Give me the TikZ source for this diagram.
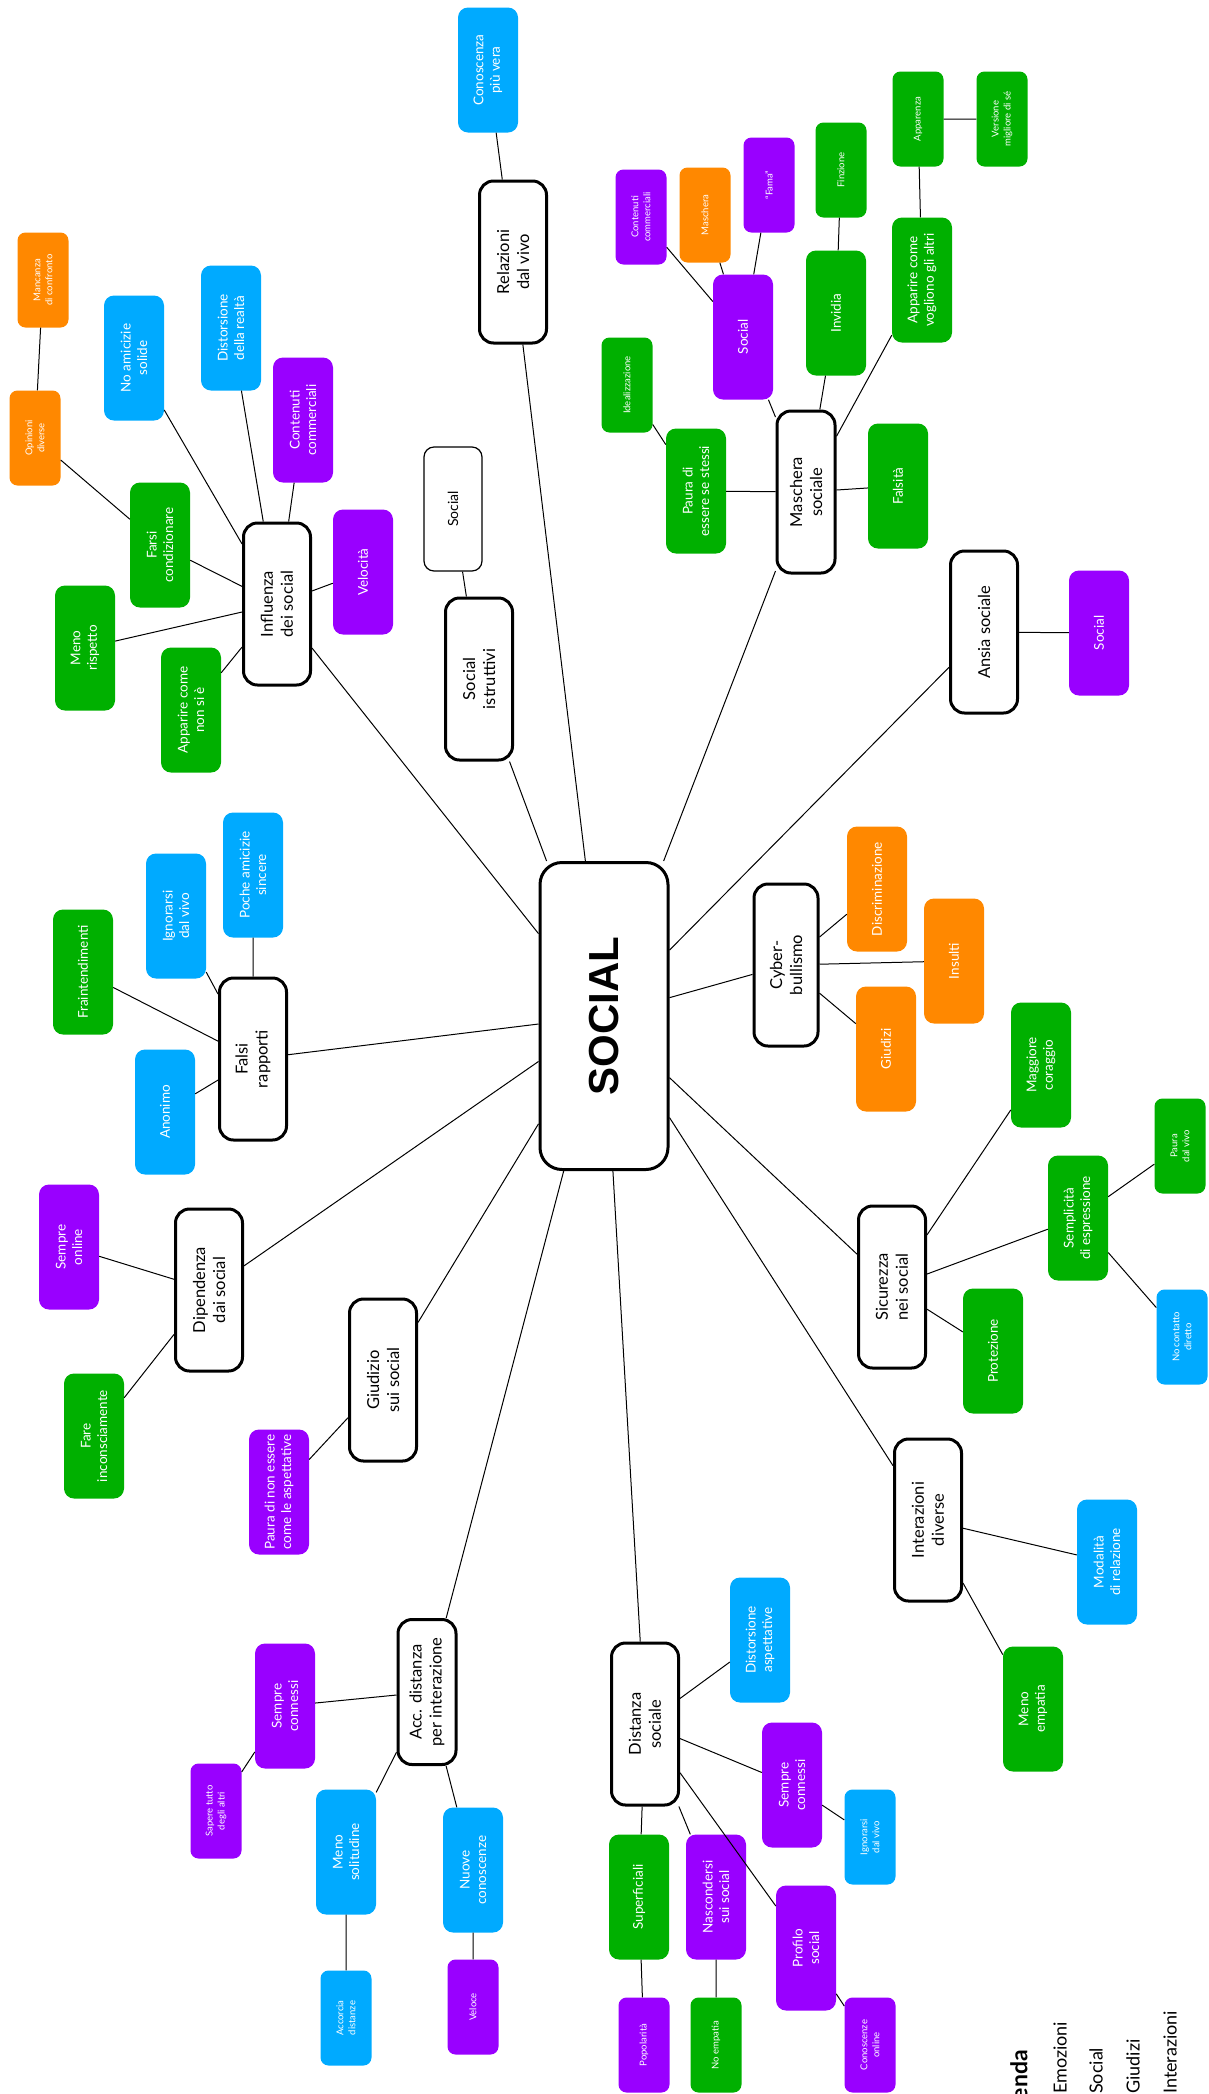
\documentclass[tikz,border=0pt]{standalone}
\usepackage{fontspec}
\setmainfont{Lato}
\newfontfamily\hubfont{Liberation Sans}
\definecolor{ColorEmozioni}{HTML}{00B000}
\definecolor{ColorSocial}{HTML}{9900FF}
\definecolor{ColorGiudizi}{HTML}{FF8800}
\definecolor{ColorInterazioni}{HTML}{00AAFF}

\begin{document}
\begin{tikzpicture}[x=1pt, y=-1pt,
        every node/.style={rotate=90, align=center, inner sep=2pt},
        hub/.style={draw, line width=3pt, rounded corners=22pt, fill=white, minimum width=307pt, minimum height=128pt, font=\hubfont\bfseries\fontsize{42}{48}\selectfont},
        topic/.style={draw, line width=3pt, rounded corners=14pt, fill=white, minimum width=162pt, minimum height=67pt, font=\fontsize{16.5}{20}\selectfont},
        plain/.style={draw, line width=1.2pt, rounded corners=10pt, minimum width=124pt, minimum height=58pt, font=\fontsize{14}{17}\selectfont},
        leaf/.style={rounded corners=10pt, fill=#1, text=white, minimum width=125pt, minimum height=60pt, font=\fontsize{13.5}{16.5}\selectfont},
        twig/.style={rounded corners=8pt, fill=#1, text=white, minimum width=95pt, minimum height=51pt, font=\fontsize{9.5}{12}\selectfont},
        legend/.style={inner sep=0pt, font=\fontsize{18}{22}\selectfont},
        link/.style={line width=1pt}]
    \useasboundingbox (0,0) rectangle (1208,2094);

    \node[hub] (social) at (604,1016) {SOCIAL};

    % Influenza dei social
    \node[topic] (infl) at (277,604) {Influenza\\dei social};
    \node[leaf=ColorInterazioni] (noamic) at (134,358) {No amicizie\\solide};
    \node[leaf=ColorInterazioni] (distreal) at (231,328) {Distorsione\\della realtà};
    \node[leaf=ColorSocial] (contcomm) at (303,420) {Contenuti\\commerciali};
    \node[leaf=ColorEmozioni] (farsi) at (160,545) {Farsi\\condizionare};
    \node[twig=ColorGiudizi] (opinioni) at (35,438) {Opinioni\\diverse};
    \node[twig=ColorGiudizi] (mancanza) at (43,280) {Mancanza\\di confronto};
    \node[leaf=ColorSocial] (veloc) at (363,572) {Velocità};
    \node[leaf=ColorEmozioni] (menorisp) at (85,648) {Meno\\rispetto};
    \node[leaf=ColorEmozioni] (apparnon) at (191,710) {Apparire come\\non si è};

    % Relazioni dal vivo
    \node[topic] (rel) at (513,262) {Relazioni\\dal vivo};
    \node[leaf=ColorInterazioni] (conosc) at (488,70) {Conoscenza\\più vera};

    % Social istruttivi
    \node[topic] (istr) at (479,679) {Social\\istruttivi};
    \node[plain] (socialw) at (453,509) {Social};

    % Maschera sociale
    \node[topic, minimum height=58pt] (masch) at (806,492) {Maschera\\sociale};
    \node[leaf=ColorEmozioni] (paura) at (696,491) {Paura di\\essere se stessi};
    \node[twig=ColorEmozioni] (ideal) at (627,385) {Idealizzazione};
    \node[leaf=ColorSocial] (socialp) at (743,337) {Social};
    \node[twig=ColorSocial] (contcomm2) at (641,217) {Contenuti\\commerciali};
    \node[twig=ColorGiudizi] (maschera) at (705,215) {Maschera};
    \node[twig=ColorSocial] (fama) at (769,185) {“Fama”};
    \node[leaf=ColorEmozioni] (invidia) at (836,313) {Invidia};
    \node[twig=ColorEmozioni] (finzione) at (841,170) {Finzione};
    \node[leaf=ColorEmozioni] (apparvog) at (922,280) {Apparire come\\vogliono gli altri};
    \node[twig=ColorEmozioni] (apparenza) at (918,119) {Apparenza};
    \node[twig=ColorEmozioni] (versione) at (1002,119) {Versione\\migliore di sé};
    \node[leaf=ColorEmozioni] (falsita) at (898,486) {Falsità};

    % Ansia sociale
    \node[topic] (ansia) at (984,632) {Ansia sociale};
    \node[leaf=ColorSocial] (socialans) at (1099,633) {Social};

    % Cyberbullismo
    \node[topic, minimum height=64pt] (cyber) at (786,965) {Cyber-\\bullismo};
    \node[leaf=ColorGiudizi] (discrim) at (877,889) {Discriminazione};
    \node[leaf=ColorGiudizi] (insulti) at (954,961) {Insulti};
    \node[leaf=ColorGiudizi] (giudizi) at (886,1049) {Giudizi};

    % Sicurezza nei social
    \node[topic] (sicur) at (892,1287) {Sicurezza\\nei social};
    \node[leaf=ColorEmozioni] (coraggio) at (1041,1065) {Maggiore\\coraggio};
    \node[leaf=ColorEmozioni] (sempl) at (1078,1218) {Semplicità\\di espressione};
    \node[twig=ColorEmozioni] (pauravivo) at (1180,1146) {Paura\\dal vivo};
    \node[twig=ColorInterazioni] (nocontatto) at (1182,1337) {No contatto\\diretto};
    \node[leaf=ColorEmozioni] (protez) at (993,1351) {Protezione};

    % Interazioni diverse
    \node[topic] (inter) at (928,1520) {Interazioni\\diverse};
    \node[leaf=ColorInterazioni] (modal) at (1107,1562) {Modalità\\di relazione};
    \node[leaf=ColorEmozioni] (menoemp) at (1033,1709) {Meno\\empatia};

    % Distanza sociale
    \node[topic] (dist) at (645,1724) {Distanza\\sociale};
    \node[leaf=ColorInterazioni] (distasp) at (760,1640) {Distorsione\\aspettative};
    \node[leaf=ColorSocial] (sempre2) at (792,1785) {Sempre\\connessi};
    \node[twig=ColorInterazioni] (ignor2) at (870,1837) {Ignorarsi\\dal vivo};
    \node[leaf=ColorSocial] (profilo) at (806,1948) {Profilo\\social};
    \node[twig=ColorSocial] (conoscon) at (870,2045) {Conoscenze\\online};
    \node[leaf=ColorSocial] (nascond) at (716,1897) {Nascondersi\\sui social};
    \node[twig=ColorEmozioni] (noemp) at (716,2045) {No empatia};
    \node[leaf=ColorEmozioni] (superf) at (639,1897) {Superficiali};
    \node[twig=ColorSocial] (popol) at (644,2045) {Popolarità};

    % Acc. distanza per interazione
    \node[topic, minimum width=145pt, minimum height=58pt] (acc) at (427,1692) {Acc. distanza\\per interazione};
    \node[leaf=ColorSocial] (sempre1) at (285,1706) {Sempre\\connessi};
    \node[twig=ColorSocial] (sapere) at (216,1811) {Sapere tutto\\degli altri};
    \node[leaf=ColorInterazioni] (menosol) at (346,1852) {Meno\\solitudine};
    \node[twig=ColorInterazioni] (accorcia) at (346,2018) {Accorcia\\distanze};
    \node[leaf=ColorInterazioni] (nuove) at (473,1870) {Nuove\\conoscenze};
    \node[twig=ColorSocial] (veloce) at (473,2007) {Veloce};

    % Giudizio sui social
    \node[topic] (giud) at (383,1380) {Giudizio\\sui social};
    \node[leaf=ColorSocial] (pauranon) at (279,1492) {Paura di non essere\\come le aspettative};

    % Dipendenza dai social
    \node[topic] (dip) at (209,1290) {Dipendenza\\dai social};
    \node[leaf=ColorSocial] (sempreon) at (69,1247) {Sempre\\online};
    \node[leaf=ColorEmozioni] (fare) at (94,1436) {Fare\\inconsciamente};

    % Falsi rapporti
    \node[topic] (falsi) at (253,1059) {Falsi\\rapporti};
    \node[leaf=ColorInterazioni] (poche) at (253,875) {Poche amicizie\\sincere};
    \node[leaf=ColorInterazioni] (ignor1) at (176,916) {Ignorarsi\\dal vivo};
    \node[leaf=ColorEmozioni] (frain) at (83,972) {Fraintendimenti};
    \node[leaf=ColorInterazioni] (anonimo) at (165,1112) {Anonimo};

    % legenda (cut by the page edge)
    \node[legend, anchor=east, font=\bfseries\fontsize{23}{26}\selectfont] (legenda) at (1021,2050) {Legenda};
    \node[legend, anchor=west] (lemo) at (1060,2094) {Emozioni};
    \node[legend, anchor=west] (lsoc) at (1096,2094) {Social};
    \node[legend, anchor=west] (lgiu) at (1133,2094) {Giudizi};
    \node[legend, anchor=west] (lint) at (1170,2094) {Interazioni};

    % connectors
    \draw[link] (social) -- (infl) (social) -- (istr) (social) -- (rel) (social) -- (masch)
        (social) -- (ansia) (social) -- (cyber) (social) -- (sicur) (social) -- (inter)
        (social) -- (dist) (social) -- (acc) (social) -- (giud) (social) -- (dip) (social) -- (falsi);
    \draw[link] (infl) -- (noamic) (infl) -- (distreal) (infl) -- (contcomm) (infl) -- (farsi)
        (infl) -- (veloc) (infl) -- (menorisp) (infl) -- (apparnon)
        (farsi) -- (opinioni) (opinioni) -- (mancanza);
    \draw[link] (rel) -- (conosc) (istr) -- (socialw);
    \draw[link] (masch) -- (paura) (paura) -- (ideal) (masch) -- (socialp)
        (socialp) -- (contcomm2) (socialp) -- (maschera) (socialp) -- (fama)
        (masch) -- (invidia) (invidia) -- (finzione) (masch) -- (apparvog)
        (apparvog) -- (apparenza) (apparenza) -- (versione) (masch) -- (falsita);
    \draw[link] (ansia) -- (socialans);
    \draw[link] (cyber) -- (discrim) (cyber) -- (insulti) (cyber) -- (giudizi);
    \draw[link] (sicur) -- (coraggio) (sicur) -- (sempl) (sicur) -- (protez)
        (sempl) -- (pauravivo) (sempl) -- (nocontatto);
    \draw[link] (inter) -- (modal) (inter) -- (menoemp);
    \draw[link] (dist) -- (distasp) (dist) -- (sempre2) (sempre2) -- (ignor2)
        (dist) -- (profilo) (profilo) -- (conoscon) (dist) -- (nascond) (nascond) -- (noemp)
        (dist) -- (superf) (superf) -- (popol);
    \draw[link] (acc) -- (sempre1) (sempre1) -- (sapere) (acc) -- (menosol) (menosol) -- (accorcia)
        (acc) -- (nuove) (nuove) -- (veloce);
    \draw[link] (giud) -- (pauranon);
    \draw[link] (dip) -- (sempreon) (dip) -- (fare);
    \draw[link] (falsi) -- (poche) (falsi) -- (ignor1) (falsi) -- (frain) (falsi) -- (anonimo);
\end{tikzpicture}
\end{document}
